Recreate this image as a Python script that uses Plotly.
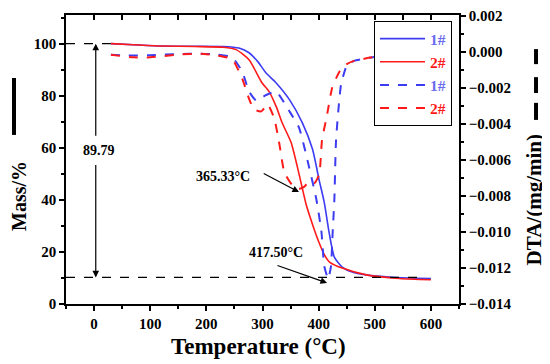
import plotly.graph_objects as go

# TG curves (left axis, mass %)
tg1_temp = [30, 70, 120, 180, 230, 258, 276, 292, 306, 324, 348, 371, 389, 401, 410, 419, 428, 442, 460, 485, 530, 600]
tg1_mass = [100, 99.6, 99.1, 99.0, 98.9, 98.3, 96.5, 93.0, 88.8, 85.0, 78.5, 69.6, 59.5, 47.5, 39.0, 27.0, 18.0, 14.2, 12.3, 11.2, 10.3, 9.8]

tg2_temp = [30, 70, 120, 180, 230, 253, 276, 299, 312, 325, 335, 351, 365, 378, 390, 400, 410, 420, 442, 485, 544, 600]
tg2_mass = [100, 99.6, 99.1, 98.9, 98.6, 97.7, 93.8, 85.0, 81.5, 75.5, 69.6, 62.0, 50.0, 38.0, 30.0, 24.0, 19.0, 16.0, 13.8, 11.2, 9.8, 9.3]

# DTA curves (right axis, mg/min)
dta1_temp = [30, 60, 100, 150, 190, 220, 246, 264, 276, 289, 306, 324, 348, 365, 383, 396, 405, 410, 417,
             422, 425, 428, 431, 440, 451, 463, 496, 540, 600]
dta1_val = [-0.00016, -0.0002, -0.00018, -0.00012, -0.0001, -0.00015, -0.0003, -0.0011, -0.0022, -0.0027,
            -0.0024, -0.0022, -0.0033, -0.0042, -0.0064, -0.0082, -0.0100, -0.0119, -0.0126,
            -0.0119, -0.0100, -0.0082, -0.0049, -0.0018, -0.0007, -0.0005, -0.0003, -0.0002, -0.0002]

dta2_temp = [30, 70, 100, 150, 190, 220, 246, 264, 276, 285, 298, 309, 321, 330, 339, 353, 365, 374, 383,
             392, 401, 406, 415, 424, 437, 449, 463, 496, 540, 600]
dta2_val = [-0.00016, -0.0003, -0.0003, -0.00015, -0.0001, -0.0002, -0.0004, -0.0015, -0.0026, -0.0032,
            -0.0033, -0.0029, -0.0037, -0.0051, -0.0067, -0.0074, -0.0076, -0.0075, -0.0072,
            -0.0073, -0.0068, -0.0049, -0.0035, -0.0020, -0.0011, -0.0007, -0.0005, -0.0003, -0.0002, -0.0002]

mass_loss = 89.79
residue = 100 - mass_loss

BLUE = '#3c3cf2'
RED = '#ff1a1a'
FONT = 'Liberation Serif'

fig = go.Figure()
fig.add_trace(go.Scatter(x=tg1_temp, y=tg1_mass, mode='lines', line=dict(color=BLUE, width=1.6, shape='spline', smoothing=0.6),
                         name='<span style="color:#6b6bf0">1#</span>'))
fig.add_trace(go.Scatter(x=tg2_temp, y=tg2_mass, mode='lines', line=dict(color=RED, width=1.6, shape='spline', smoothing=0.6),
                         name='<span style="color:#ff1a1a">2#</span>'))
fig.add_trace(go.Scatter(x=dta1_temp, y=dta1_val, mode='lines', yaxis='y2',
                         line=dict(color=BLUE, width=2, dash='dash', shape='spline', smoothing=0.5),
                         name='<span style="color:#6b6bf0">1#</span>'))
fig.add_trace(go.Scatter(x=dta2_temp, y=dta2_val, mode='lines', yaxis='y2',
                         line=dict(color=RED, width=2, dash='dash', shape='spline', smoothing=0.5),
                         name='<span style="color:#ff1a1a">2#</span>'))
# invisible trace so the top axis gets drawn
fig.add_trace(go.Scatter(x=[0], y=[50], xaxis='x2', mode='markers', marker=dict(opacity=0),
                         showlegend=False, hoverinfo='skip'))

# dashed reference lines
fig.add_shape(type='line', x0=-50, x1=30, y0=100, y1=100, xref='x', yref='y',
              line=dict(color='black', width=1.2, dash='dash'))
fig.add_shape(type='line', x0=-50, x1=578, y0=residue, y1=residue, xref='x', yref='y',
              line=dict(color='black', width=1.2, dash='dash'))

# axis-title style markers
fig.add_shape(type='line', xref='paper', yref='paper', x0=-0.1323, x1=-0.1323, y0=0.585, y1=0.782,
              line=dict(color='black', width=4))
for y0, y1 in [(0.830, 0.882), (0.730, 0.785), (0.637, 0.696)]:
    fig.add_shape(type='line', xref='paper', yref='paper', x0=1.196, x1=1.196, y0=y0, y1=y1,
                  line=dict(color='black', width=4))

ann_font = dict(family=FONT, size=14, color='black', weight='bold')
# double-headed mass-loss arrow
fig.add_annotation(x=3, y=100, ax=3, ay=64, xref='x', yref='y', axref='x', ayref='y', text='',
                   showarrow=True, arrowhead=2, arrowsize=1.1, arrowwidth=1.2, arrowcolor='black')
fig.add_annotation(x=3, y=residue, ax=3, ay=54, xref='x', yref='y', axref='x', ayref='y', text='',
                   showarrow=True, arrowhead=2, arrowsize=1.1, arrowwidth=1.2, arrowcolor='black')
fig.add_annotation(x=9, y=59, xref='x', yref='y', text=f'{mass_loss:.2f}', showarrow=False, font=ann_font)

fig.add_annotation(x=365, y=43, ax=299.5, ay=50.4, xref='x', yref='y', axref='x', ayref='y', text='',
                   showarrow=True, arrowhead=2, arrowsize=1.1, arrowwidth=1.2, arrowcolor='black')
fig.add_annotation(x=230, y=49, xref='x', yref='y', text='365.33°C', showarrow=False, font=ann_font)

fig.add_annotation(x=415, y=8.1, ax=324, ay=15, xref='x', yref='y', axref='x', ayref='y', text='',
                   showarrow=True, arrowhead=2, arrowsize=1.1, arrowwidth=1.2, arrowcolor='black')
fig.add_annotation(x=324, y=19.6, xref='x', yref='y', text='417.50°C', showarrow=False, font=ann_font)

# axis titles
title_font = dict(family=FONT, size=20, color='black', weight='bold')
fig.add_annotation(x=-0.1196, y=0.374, xref='paper', yref='paper', text='Mass/%', textangle=-90,
                   xanchor='center', yanchor='middle', showarrow=False, font=title_font)
fig.add_annotation(x=1.192, y=0.36, xref='paper', yref='paper', text='DTA/(mg/min)', textangle=-90,
                   xanchor='center', yanchor='middle', showarrow=False, font=dict(title_font, size=21))
fig.add_annotation(x=0.491, y=-0.147, xref='paper', yref='paper', text='Temperature (°C)',
                   xanchor='center', yanchor='middle', showarrow=False,
                   font=dict(family=FONT, size=23, color='black', weight='bold'))

axis_common = dict(showline=True, linecolor='black', linewidth=1.5, showgrid=False, zeroline=False,
                   automargin=False, tickcolor='black', tickwidth=1.5,
                   tickfont=dict(family=FONT, size=15, color='black', weight='bold'))

# page body adds an 8px offset, so the figure is sized 8px smaller and margins shifted
fig.update_layout(
    width=542, height=356,
    margin=dict(l=58, r=91, t=7, b=60, autoexpand=False),
    plot_bgcolor='white', paper_bgcolor='white',
    font=dict(family=FONT, color='black', weight='bold'),
    xaxis=dict(range=[-50, 650], dtick=100, ticks='outside', ticklen=5,
               minor=dict(dtick=50, ticks='outside', ticklen=3, tickcolor='black'), **axis_common),
    xaxis2=dict(range=[-50, 650], overlaying='x', side='top', anchor='y', dtick=50, ticks='inside', ticklen=5,
                showticklabels=False, **axis_common),
    yaxis=dict(range=[0, 111], dtick=20, ticks='outside', ticklen=5,
               minor=dict(dtick=10, ticks='outside', ticklen=3, tickcolor='black'), **axis_common),
    yaxis2=dict(range=[-0.014, 0.00205], tick0=0, dtick=0.002, tickformat='.3f', overlaying='y', side='right',
                ticks='outside', ticklen=5, minor=dict(dtick=0.001, ticks='outside', ticklen=3, tickcolor='black'),
                **axis_common),
    showlegend=True,
    legend=dict(x=0.7837, y=0.979, xanchor='left', yanchor='top', bgcolor='white', bordercolor='black',
                borderwidth=1, itemwidth=45, font=dict(family=FONT, size=15.5, weight='bold')),
)

fig.write_html('out.html')
